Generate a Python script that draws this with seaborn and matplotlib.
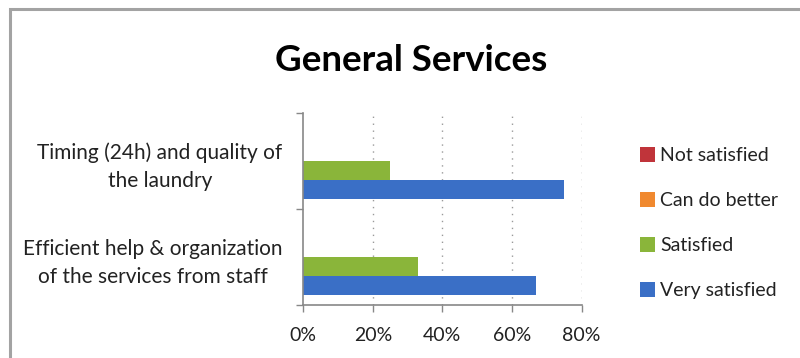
import matplotlib
matplotlib.use("Agg")
import matplotlib.pyplot as plt
from matplotlib.patches import Patch, Rectangle
from matplotlib.ticker import PercentFormatter
import seaborn as sns
import pandas as pd

# Survey results: share of answers per rating for each service
categories = [
    "Timing (24h) and quality of\nthe laundry",
    "Efficient help & organization\nof the services from staff",
]
ratings = ["Not satisfied", "Can do better", "Satisfied", "Very satisfied"]
not_satisfied = [0, 0]
can_do_better = [0, 0]
satisfied = [25, 33]
very_satisfied = [75, 67]
x_ticks = [0, 20, 40, 60, 80]

colors = ["#c0343a", "#f0892f", "#8ab53a", "#3a6fc6"]

rows = []
for series_name, values in zip(ratings, [not_satisfied, can_do_better, satisfied, very_satisfied]):
    for cat, v in zip(categories, values):
        rows.append({"Service": cat, "Rating": series_name, "Share": v})
df = pd.DataFrame(rows)

sns.set_theme(style="white")
plt.rcParams["font.family"] = ["Lato", "DejaVu Sans"]

fig = plt.figure(figsize=(8.0, 3.58), dpi=100)
ax = fig.add_axes([0.379, 0.148, 0.348, 0.536])

sns.barplot(
    data=df, y="Service", x="Share", hue="Rating",
    hue_order=ratings, order=categories, palette=colors,
    orient="h", width=0.8, ax=ax, legend=False, saturation=1,
    linewidth=0,
)

ax.set_xlim(0, 80)
ax.set_ylim(1.5, -0.5)
ax.set_xticks(x_ticks)
ax.xaxis.set_major_formatter(PercentFormatter(decimals=0))
ax.set_xlabel("")
ax.set_ylabel("")

# category boundary ticks on the y axis, labels centred between them
ax.set_yticks([-0.5, 0.5, 1.5])
ax.set_yticklabels([])
ax.set_yticks([0, 1], minor=True)
ax.set_yticklabels(categories, minor=True, ha="right", multialignment="center",
                   fontsize=15, linespacing=1.5, color="#222222")
ax.tick_params(axis="y", which="minor", length=0, pad=15)
ax.tick_params(axis="y", which="major", length=5, width=1, color="#888888",
               direction="out", left=True)
ax.tick_params(axis="x", length=5, width=1, color="#888888", direction="out",
               bottom=True, labelsize=14, labelcolor="#222222", pad=11)

# dotted vertical gridlines
for xv in x_ticks[1:]:
    ax.axvline(xv, color="#9a9a9a", linestyle=(0, (1, 4)), linewidth=1, zorder=0)

for side in ["top", "right"]:
    ax.spines[side].set_visible(False)
for side in ["left", "bottom"]:
    ax.spines[side].set_color("#888888")
    ax.spines[side].set_linewidth(1.2)

fig.text(0.514, 0.832, "General Services", ha="center", va="center",
         fontsize=26.5, fontweight="bold", color="black")

handles = [Patch(facecolor=c, edgecolor="none") for c in colors]
fig.legend(handles, ratings, loc="center left", bbox_to_anchor=(0.778, 0.377),
           frameon=False, fontsize=14, labelspacing=1.42, handlelength=0.8,
           handleheight=0.8, handletextpad=0.25, labelcolor="#222222")

# outer chart frame (left and top edges)
fig.patches.append(Rectangle((0.012, -0.1), 1.2, 1.076, transform=fig.transFigure,
                             fill=False, edgecolor="#a3a3a3", linewidth=2.2))

fig.savefig("out.png", dpi=100, facecolor="white")
